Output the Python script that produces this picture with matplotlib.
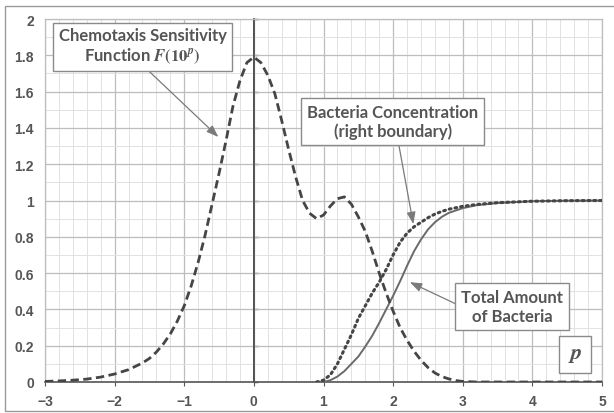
import matplotlib
matplotlib.use('Agg')
import matplotlib.pyplot as plt
from matplotlib.patches import Rectangle
from matplotlib.ticker import MultipleLocator

# chemotaxis sensitivity function F(10^p), dashed
p_chemo = [-3.0, -2.8, -2.6, -2.4, -2.2, -2.0, -1.8, -1.6, -1.5, -1.4, -1.3, -1.2, -1.1,
           -1.0, -0.9, -0.8, -0.7, -0.6, -0.5, -0.4, -0.3, -0.2, -0.1, 0.0, 0.1, 0.2,
           0.3, 0.4, 0.5, 0.6, 0.7, 0.8, 0.9, 1.0, 1.1, 1.2, 1.3, 1.4, 1.5, 1.6, 1.7,
           1.8, 1.9, 2.0, 2.1, 2.2, 2.3, 2.4, 2.5, 2.6, 2.7, 2.8, 2.9, 3.0, 3.2, 3.5, 4.0, 5.0]
chemo = [0.003, 0.006, 0.010, 0.016, 0.027, 0.044, 0.068, 0.105, 0.13, 0.165, 0.21, 0.265, 0.335,
         0.42, 0.53, 0.66, 0.81, 0.98, 1.15, 1.33, 1.52, 1.66, 1.76, 1.79, 1.76, 1.69,
         1.59, 1.44, 1.28, 1.13, 1.00, 0.93, 0.90, 0.92, 0.97, 1.01, 1.02, 0.98, 0.91, 0.83, 0.72,
         0.60, 0.49, 0.39, 0.30, 0.23, 0.17, 0.12, 0.08, 0.05, 0.03, 0.017, 0.008, 0.003, 0.0, 0.0, 0.0, 0.0]

# bacteria concentration at right boundary, dotted
p_conc = [0.9, 1.0, 1.1, 1.2, 1.3, 1.4, 1.5, 1.6, 1.7, 1.8, 1.9, 2.0, 2.1, 2.2, 2.3, 2.4,
          2.5, 2.6, 2.7, 2.8, 3.0, 3.2, 3.5, 4.0, 4.5, 5.0]
conc = [0.0, 0.01, 0.04, 0.10, 0.18, 0.26, 0.35, 0.42, 0.49, 0.55, 0.62, 0.70, 0.77, 0.82, 0.855, 0.88,
        0.905, 0.925, 0.94, 0.952, 0.968, 0.978, 0.988, 0.996, 0.999, 1.0]

# total amount of bacteria, solid
p_total = [1.0, 1.1, 1.2, 1.3, 1.4, 1.5, 1.6, 1.7, 1.8, 1.9, 2.0, 2.1, 2.2, 2.3, 2.4,
           2.5, 2.6, 2.7, 2.8, 3.0, 3.2, 3.5, 4.0, 4.5, 5.0]
total = [0.0, 0.01, 0.03, 0.06, 0.10, 0.14, 0.195, 0.255, 0.325, 0.40, 0.475, 0.555, 0.64, 0.72, 0.785,
         0.84, 0.88, 0.91, 0.932, 0.958, 0.974, 0.986, 0.996, 0.999, 1.0]

x_ticks = [-3, -2, -1, 0, 1, 2, 3, 4, 5]
y_ticks = [0, 0.2, 0.4, 0.6, 0.8, 1, 1.2, 1.4, 1.6, 1.8, 2]
y_labels = ['0', '0.2', '0.4', '0.6', '0.8', '1', '1.2', '1.4', '1.6', '1.8', '2']

plt.rcParams['mathtext.fontset'] = 'stix'

txt_col = '#555555'
line_col = '#454545'
label_font = 'Lato'

fig = plt.figure(figsize=(6.14, 4.14), dpi=100)
ax = fig.add_axes([45 / 614, 1 - 383 / 414, (602 - 45) / 614, (383 - 20) / 414])

# grid
ax.set_xlim(-3, 5)
ax.set_ylim(0, 2)
ax.xaxis.set_minor_locator(MultipleLocator(0.2))
ax.yaxis.set_minor_locator(MultipleLocator(0.1))
ax.grid(which='major', color='#bdbdbd', lw=0.9)
ax.grid(which='minor', color='#e2e2e2', lw=0.7)
ax.set_axisbelow(True)

for side in ['left', 'top', 'right']:
    ax.spines[side].set_color('#bdbdbd')
    ax.spines[side].set_linewidth(0.9)
ax.spines['bottom'].set_color('#555555')
ax.spines['bottom'].set_linewidth(1.2)

ax.set_xticks(x_ticks)
ax.set_yticks(y_ticks)
ax.set_yticklabels(y_labels)
ax.tick_params(axis='x', which='major', length=3, color='#555555', pad=6,
               labelsize=10, labelcolor=txt_col)
ax.tick_params(axis='y', which='major', length=0, pad=8, labelsize=10, labelcolor=txt_col)
ax.tick_params(which='minor', length=0)
for lab in ax.get_xticklabels() + ax.get_yticklabels():
    lab.set_fontfamily('Liberation Sans')
    lab.set_fontweight('bold')

# y axis line through p = 0
ax.axvline(0, color='#505050', lw=1.3, zorder=2.5)
yax = ax.secondary_yaxis(3 / 8)
yax.set_yticks(y_ticks)
yax.tick_params(direction='in', length=3, width=1.0, color='#505050',
                labelleft=False, labelright=False)
yax.spines['left'].set_color('#505050')
yax.spines['left'].set_linewidth(1.3)
yax.set_yticklabels([])

# curves
ax.plot(p_chemo, chemo, color=line_col, lw=2.0, ls=(0, (3, 1.6)), zorder=4)
ax.plot(p_conc, conc, color=line_col, lw=2.2, ls=(0, (0.6, 1.3)), dash_capstyle='round', zorder=4)
ax.plot(p_total, total, color='#6a6a6a', lw=1.4, zorder=3)

box = dict(boxstyle='square,pad=0.35', fc='white', ec='#8a8a8a', lw=1.0)
arrow = dict(arrowstyle='-|>,head_length=0.6,head_width=0.22', color='#7a7a7a', lw=0.9,
             shrinkA=0, shrinkB=0)

ax.annotate('Chemotaxis Sensitivity\nFunction $\\mathbfit{F}\\mathbf{(10}^{\\mathbfit{p}}\\mathbf{)}$',
            xy=(-0.51, 1.35), xytext=(-1.6, 1.851),
            ha='center', va='center', fontsize=12, fontweight='bold', family=label_font,
            color=txt_col, bbox=dict(box, pad=0.3), arrowprops=dict(arrow, relpos=(0.5, 0)), zorder=6,
            linespacing=1.15)
ax.annotate('Bacteria Concentration\n(right boundary)', xy=(2.29, 0.87), xytext=(1.993, 1.435),
            ha='center', va='center', fontsize=12, fontweight='bold', family=label_font,
            color=txt_col, bbox=box, arrowprops=dict(arrow, relpos=(0.53, 0)), zorder=6,
            linespacing=1.2)
ax.annotate('Total Amount\nof Bacteria', xy=(2.24, 0.55), xytext=(3.71, 0.416),
            ha='center', va='center', fontsize=12, fontweight='bold', family=label_font,
            color=txt_col, bbox=box, arrowprops=dict(arrow, relpos=(0, 0.5)), zorder=6,
            linespacing=1.2)
ax.text(4.615, 0.152, '$\\mathbfit{p}$', ha='center', va='center', fontsize=16,
        color=txt_col, bbox=dict(boxstyle='square,pad=0.4', fc='white', ec='#8a8a8a', lw=1.0),
        zorder=6)

# outer frame of the scanned picture
fig.add_artist(Rectangle((5 / 614, 2 / 414), 1.0, (412 - 7) / 414, transform=fig.transFigure,
                         fill=False, ec='#9a9a9a', lw=1.0))

fig.savefig('out.png', dpi=100)
